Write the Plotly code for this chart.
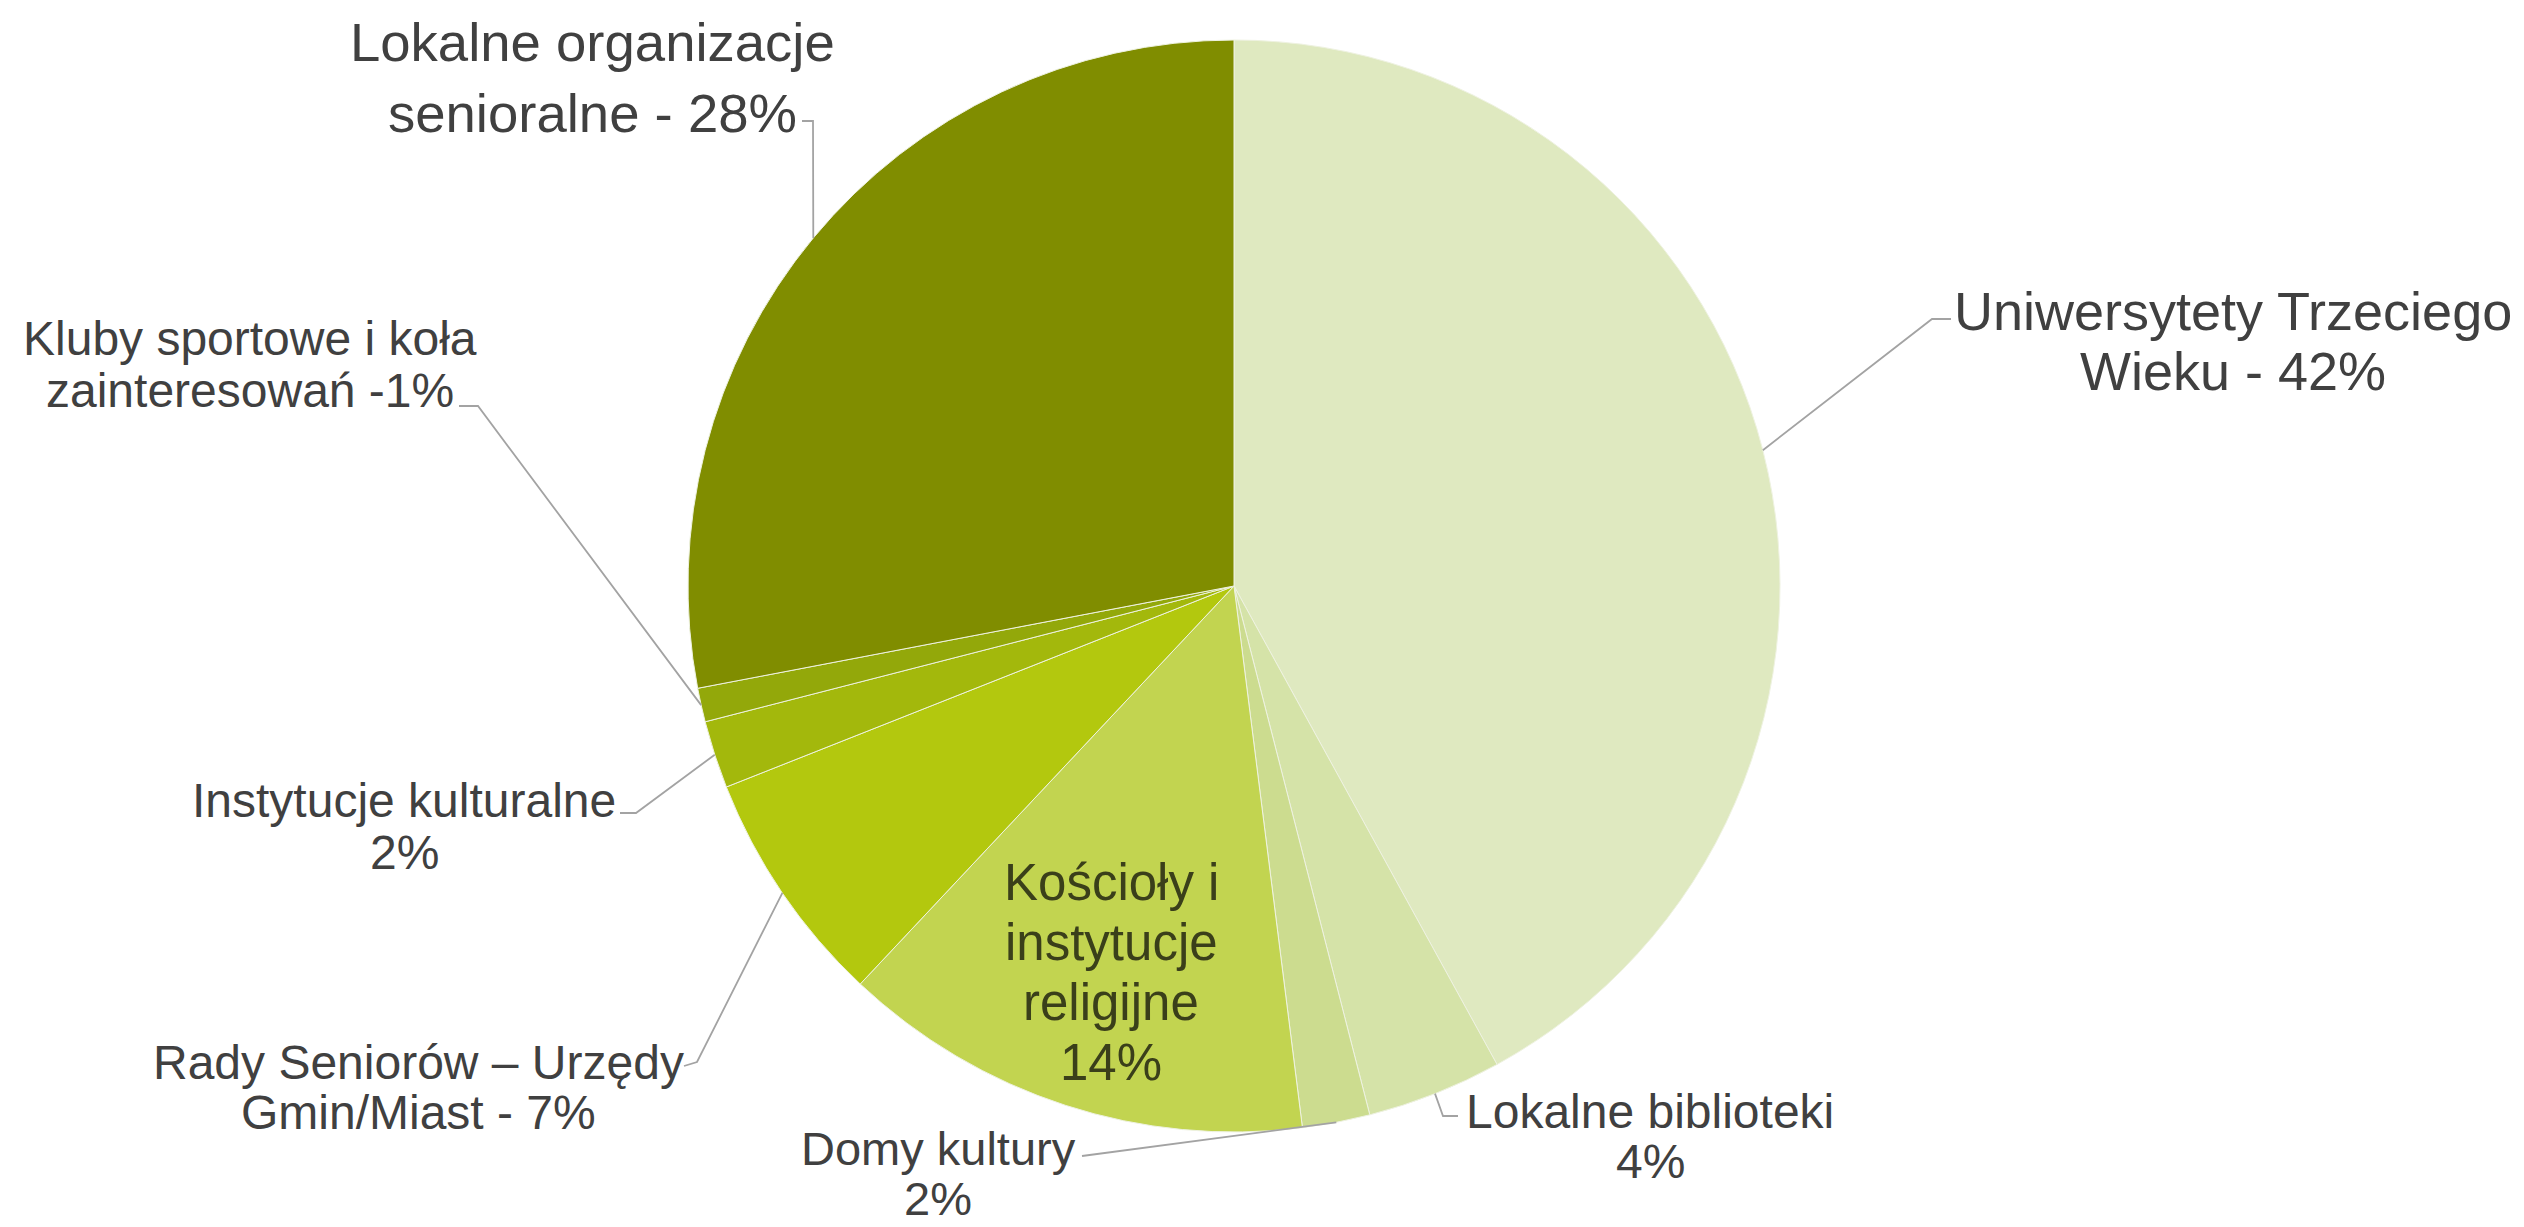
import math
import plotly.graph_objects as go

# dane
labels = ["Uniwersytety Trzeciego Wieku", "Lokalne biblioteki", "Domy kultury",
          "Kościoły i instytucje religijne", "Rady Seniorów – Urzędy Gmin/Miast",
          "Instytucje kulturalne", "Kluby sportowe i koła zainteresowań",
          "Lokalne organizacje senioralne"]
values = [42, 4, 2, 14, 7, 2, 1, 28]
colors = ["#DFE9C0", "#D5E3A8", "#CCDC8F", "#C2D450", "#B3C80E", "#A3B80C", "#93A80A", "#808D00"]
label_lines = [
    ["Uniwersytety Trzeciego", "Wieku - 42%"],
    ["Lokalne biblioteki", "4%"],
    ["Domy kultury", "2%"],
    ["Kościoły i", "instytucje", "religijne", "14%"],
    ["Rady Seniorów – Urzędy", "Gmin/Miast - 7%"],
    ["Instytucje kulturalne", "2%"],
    ["Kluby sportowe i koła", "zainteresowań -1%"],
    ["Lokalne organizacje", "senioralne - 28%"],
]

W, H = 2524, 1227
cx, cy, r = 1234, 586, 546

# label placement (px): center x, first line y, line step, font size
label_pos = [
    (2233, 311, 60, 54),
    (1650, 1111, 50, 48),
    (938, 1148, 50, 47),
    (1111, 882, 60, 51),
    (418, 1062, 50, 48),
    (404, 800, 52, 48),
    (250, 338, 53, 48),
    (592, 43, 70, 54.5),
]
# leader line points from the label side, the last point is the slice edge
leader_pts = [
    [(1951, 319), (1932, 319)],
    [(1458, 1116), (1443, 1116)],
    [(1082, 1156)],
    None,
    [(684, 1066), (697, 1062)],
    [(620, 813), (636, 813)],
    [(459, 406), (478, 406)],
    [(802, 121), (813, 121)],
]


def px(x, y):
    return x / W, 1 - y / H


fig = go.Figure()
fig.add_trace(go.Pie(
    labels=labels, values=values, sort=False, direction="clockwise", rotation=0,
    marker=dict(colors=colors, line=dict(color="#EEF2E0", width=1)),
    textinfo="none", hoverinfo="label+percent", showlegend=False,
    domain=dict(x=[(cx - r) / W, (cx + r) / W], y=[1 - (cy + r) / H, 1 - (cy - r) / H]),
))

total = sum(values)
cum = 0
shapes = []
annotations = []
for i, v in enumerate(values):
    mid = (cum + v / 2) / total * 2 * math.pi
    cum += v
    ex, ey = cx + r * math.sin(mid), cy - r * math.cos(mid)
    pts = leader_pts[i]
    if pts:
        path = "M " + " L ".join("%f,%f" % px(x, y) for x, y in pts + [(ex, ey)])
        shapes.append(dict(type="path", path=path, xref="paper", yref="paper",
                           line=dict(color="#A3A3A3", width=1.8)))
    x0, y0, step, fs = label_pos[i]
    for k, line in enumerate(label_lines[i]):
        ax, ay = px(x0, y0 + k * step)
        annotations.append(dict(text=line, x=ax, y=ay, xref="paper", yref="paper",
                                xanchor="center", yanchor="middle", showarrow=False,
                                borderpad=0,
                                font=dict(size=fs, color="#404040" if i != 3 else "#3A3F1A",
                                          family="Liberation Sans, Arial, sans-serif")))

fig.update_layout(
    width=W, height=H,
    margin=dict(l=0, r=0, t=0, b=0),
    paper_bgcolor="white", plot_bgcolor="white",
    shapes=shapes, annotations=annotations,
)
fig.write_html("out.html", config={"displayModeBar": False},
               post_script="document.body.style.margin='0px';")
